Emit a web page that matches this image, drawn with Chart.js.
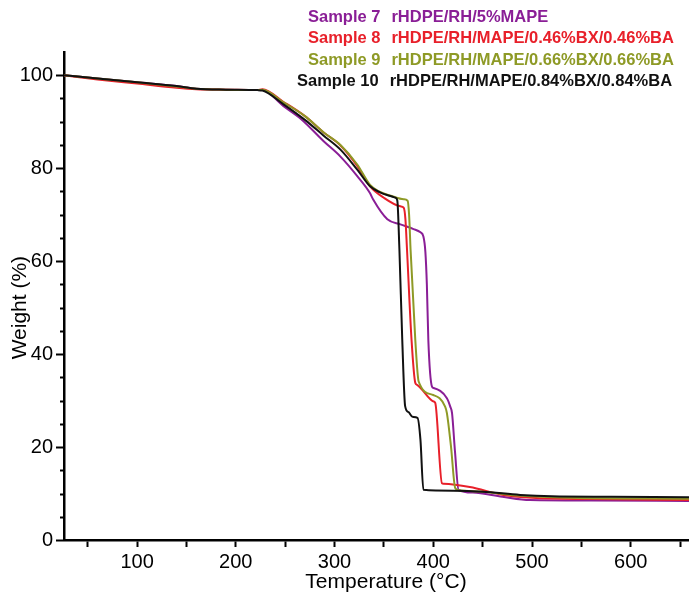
<!DOCTYPE html>
<html>
<head>
<meta charset="utf-8">
<script src="https://cdn.jsdelivr.net/npm/chart.js@4/dist/chart.umd.min.js"></script>
<style>
  html, body { margin: 0; padding: 0; background: #fff; }
  #wrap { width: 689px; height: 593px; }
</style>
</head>
<body>
<div id="wrap"><canvas id="c" width="689" height="593"></canvas></div>
<script>
// ---- Data ----
const sampleNames = ['Sample 7', 'Sample 8', 'Sample 9', 'Sample 10'];
const formulations = ['rHDPE/RH/5%MAPE', 'rHDPE/RH/MAPE/0.46%BX/0.46%BA', 'rHDPE/RH/MAPE/0.66%BX/0.66%BA', 'rHDPE/RH/MAPE/0.84%BX/0.84%BA'];
const seriesColors = ['#8a1e96', '#e8202a', '#8e9a26', '#111111'];

const s7Temp   = [26, 60, 100, 140, 160, 190, 222, 227, 248, 266, 289, 306, 323, 336, 339, 353.5, 366.7, 380, 387, 390, 392, 393.5, 395, 398.7, 400.3, 413.8, 417.2, 419, 422, 425.6, 440, 470, 498, 560, 659];
const s7Weight = [100, 99.3, 98.5, 97.7, 97.1, 96.9, 96.8, 96.8, 93.4, 90.6, 85.8, 82.5, 78.3, 74.6, 73.3, 69, 67.9, 66.9, 66.2, 65.3, 62, 55, 43, 33, 32.7, 30.5, 28.7, 27.3, 19, 10.8, 10.2, 9.3, 8.6, 8.5, 8.4];

const s8Temp   = [26, 60, 100, 140, 160, 190, 222, 227, 248, 270, 289, 306, 323, 336, 349.5, 366.7, 370, 371.8, 373.4, 378, 381.8, 383.5, 400.3, 402, 408.8, 410.4, 437, 471, 500, 560, 659];
const s8Weight = [100, 99.1, 98.2, 97.3, 97.0, 96.9, 96.8, 97.0, 94.3, 91.2, 87.7, 84.9, 80.5, 76.1, 73.7, 71.8, 71.5, 69, 62.5, 43, 33.8, 33.4, 29.8, 29.5, 12.2, 12.1, 11.4, 9.7, 9.1, 8.8, 8.6];

const s9Temp   = [26, 60, 100, 140, 160, 190, 222, 227, 248, 270, 289, 306, 323, 336, 345, 358, 370, 374, 375.5, 377, 381.8, 385.2, 400, 412, 413.8, 418, 422.2, 426, 450, 490, 540, 659];
const s9Weight = [100, 99.3, 98.5, 97.6, 97.1, 96.9, 96.8, 96.9, 94.2, 91.2, 87.7, 85.0, 80.8, 76.4, 75, 74, 73.3, 73, 70, 62.5, 43, 34.1, 31.2, 28.7, 27.3, 20, 11.2, 10.7, 10.4, 9.5, 9.1, 8.9];

const s10Temp   = [26, 60, 100, 140, 160, 190, 222, 227, 248, 270, 289, 306, 323, 336, 346, 358, 362, 363.6, 365.7, 368.6, 371.5, 375, 379, 384, 387, 390, 420, 450, 488, 520, 580, 659];
const s10Weight = [100, 99.3, 98.5, 97.7, 97.1, 96.9, 96.8, 96.7, 93.8, 90.4, 87.0, 84.0, 79.7, 76.1, 74.8, 73.9, 73.6, 73.0, 62.5, 43, 28.8, 27.5, 26.5, 26.3, 21.6, 10.8, 10.6, 10.4, 9.7, 9.4, 9.3, 9.2];

const xMin = 26, xMax = 659, yMin = 0, yMax = 105;
const xTitle = 'Temperature (°C)';
const yTitle = 'Weight (%)';

const temps = [s7Temp, s8Temp, s9Temp, s10Temp];
const weights = [s7Weight, s8Weight, s9Weight, s10Weight];

const FONT = "'Liberation Sans', Arial, sans-serif";

const datasets = sampleNames.map((name, i) => ({
  label: name + '  ' + formulations[i],
  data: temps[i].map((t, k) => ({ x: t, y: weights[i][k] })),
  borderColor: seriesColors[i],
  backgroundColor: seriesColors[i],
  borderWidth: 2,
  pointRadius: 0,
  fill: false,
  cubicInterpolationMode: 'monotone',
  order: 3 - i
}));

const extrasPlugin = {
  id: 'extras',
  afterDraw(chart) {
    const ctx = chart.ctx;
    const ys = chart.scales.y;
    const left = chart.chartArea.left;
    ctx.save();
    // minor y ticks
    ctx.strokeStyle = '#000';
    ctx.lineWidth = 2;
    for (let v = 5; v <= 100; v += 5) {
      if (v % 20 === 0) continue;
      const py = Math.round(ys.getPixelForValue(v)) + 0.5;
      ctx.beginPath();
      ctx.moveTo(left - 4, py);
      ctx.lineTo(left, py);
      ctx.stroke();
    }
    // axis titles
    ctx.fillStyle = '#000';
    ctx.font = '21px ' + FONT;
    ctx.textAlign = 'center';
    ctx.textBaseline = 'alphabetic';
    ctx.fillText(xTitle, 386, 588);
    ctx.save();
    ctx.translate(26, ys.getPixelForValue(50));
    ctx.rotate(-Math.PI / 2);
    ctx.fillText(yTitle, 0, 0);
    ctx.restore();
    // legend text
    ctx.font = 'bold 16.5px ' + FONT;
    ctx.textAlign = 'left';
    ctx.textBaseline = 'middle';
    const rowY = [17, 38.5, 60, 81.5];
    sampleNames.forEach((name, i) => {
      const x0 = i === 3 ? 297 : 308;
      ctx.fillStyle = seriesColors[i];
      ctx.fillText(name, x0, rowY[i]);
      const w = ctx.measureText(name).width;
      ctx.fillText(formulations[i], x0 + w + 11, rowY[i]);
    });
    ctx.restore();
  }
};

new Chart(document.getElementById('c'), {
  type: 'line',
  data: { datasets },
  options: {
    responsive: false,
    animation: false,
    devicePixelRatio: 1,
    layout: { padding: { top: 52, left: 0, right: 0, bottom: 0 } },
    plugins: { legend: { display: false }, tooltip: { enabled: false } },
    scales: {
      x: {
        type: 'linear',
        min: xMin,
        max: xMax,
        afterFit(scale) { scale.height = 53; },
        afterBuildTicks(scale) {
          scale.ticks = scale.ticks.filter(t => t.value >= xMin && t.value <= xMax && t.value % 50 === 0);
        },
        border: { display: true, color: '#000', width: 2.5 },
        grid: { display: true, drawOnChartArea: false, drawTicks: true, tickLength: 7, tickColor: '#000', tickWidth: 2 },
        ticks: {
          stepSize: 50,
          includeBounds: false,
          autoSkip: false,
          maxRotation: 0,
          padding: 3,
          color: '#000',
          font: { family: FONT, size: 20 },
          callback: v => (v % 100 === 0 ? String(v) : '')
        }
      },
      y: {
        type: 'linear',
        min: yMin,
        max: yMax,
        afterFit(scale) { scale.width = 64; },
        border: { display: true, color: '#000', width: 2.5 },
        grid: { display: true, drawOnChartArea: false, drawTicks: true, tickLength: 8, tickColor: '#000', tickWidth: 2 },
        ticks: {
          stepSize: 20,
          includeBounds: false,
          autoSkip: false,
          padding: 3,
          color: '#000',
          font: { family: FONT, size: 20 }
        }
      }
    }
  },
  plugins: [extrasPlugin]
});
</script>
</body>
</html>
